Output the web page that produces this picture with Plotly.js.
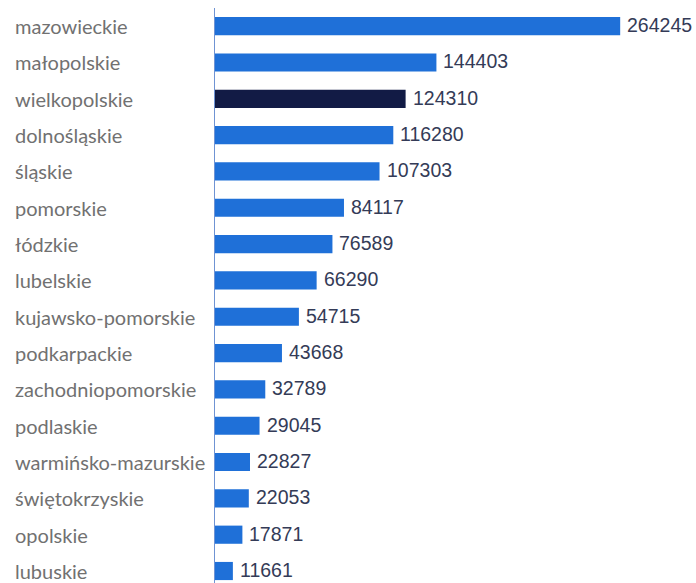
<!DOCTYPE html>
<html>
<head>
<meta charset="utf-8">
<script src="https://cdn.plot.ly/plotly-3.0.1.min.js"></script>
<style>html,body{margin:0;padding:0;background:#fff;}#chart{width:696px;height:583px;}</style>
</head>
<body>
<div id="chart"></div>
<script>
const categories = ["mazowieckie","małopolskie","wielkopolskie","dolnośląskie","śląskie","pomorskie","łódzkie","lubelskie","kujawsko-pomorskie","podkarpackie","zachodniopomorskie","podlaskie","warmińsko-mazurskie","świętokrzyskie","opolskie","lubuskie"];
const values = [264245,144403,124310,116280,107303,84117,76589,66290,54715,43668,32789,29045,22827,22053,17871,11661];
const highlighted = "wielkopolskie";

const barColors = categories.map(c => c === highlighted ? "#121b45" : "#1f70d8");

const trace = {
  type: "bar",
  orientation: "h",
  y: categories,
  x: values,
  marker: {color: barColors, line: {width: 0}},
  hoverinfo: "none"
};

const catAnnotations = categories.map(c => ({
  xref: "paper", yref: "y", x: 0, y: c,
  xanchor: "left", yanchor: "middle", xshift: -202, yshift: 0,
  text: c, showarrow: false,
  font: {family: "Lato", size: 20, color: "#717171"}
}));

const valAnnotations = values.map((v, i) => ({
  xref: "x", yref: "y", x: v, y: categories[i],
  xanchor: "left", yanchor: "middle", xshift: 5, yshift: 1,
  text: String(v), showarrow: false,
  font: {family: "Arial", size: 19.5, color: "#343b57"}
}));

const layout = {
  width: 696, height: 583,
  margin: {l: 215, r: 21, t: 8, b: 0, pad: 0},
  paper_bgcolor: "#ffffff", plot_bgcolor: "#ffffff",
  bargap: 0.5,
  showlegend: false,
  xaxis: {range: [0, 300000], visible: false, fixedrange: true},
  yaxis: {
    range: [15.33, -0.5],
    showticklabels: false, ticks: "", showgrid: false, zeroline: false,
    showline: true, linecolor: "#6f93d3", linewidth: 1.5
  },
  annotations: catAnnotations.concat(valAnnotations)
};

Plotly.newPlot("chart", [trace], layout, {staticPlot: true, displayModeBar: false});
</script>
</body>
</html>
